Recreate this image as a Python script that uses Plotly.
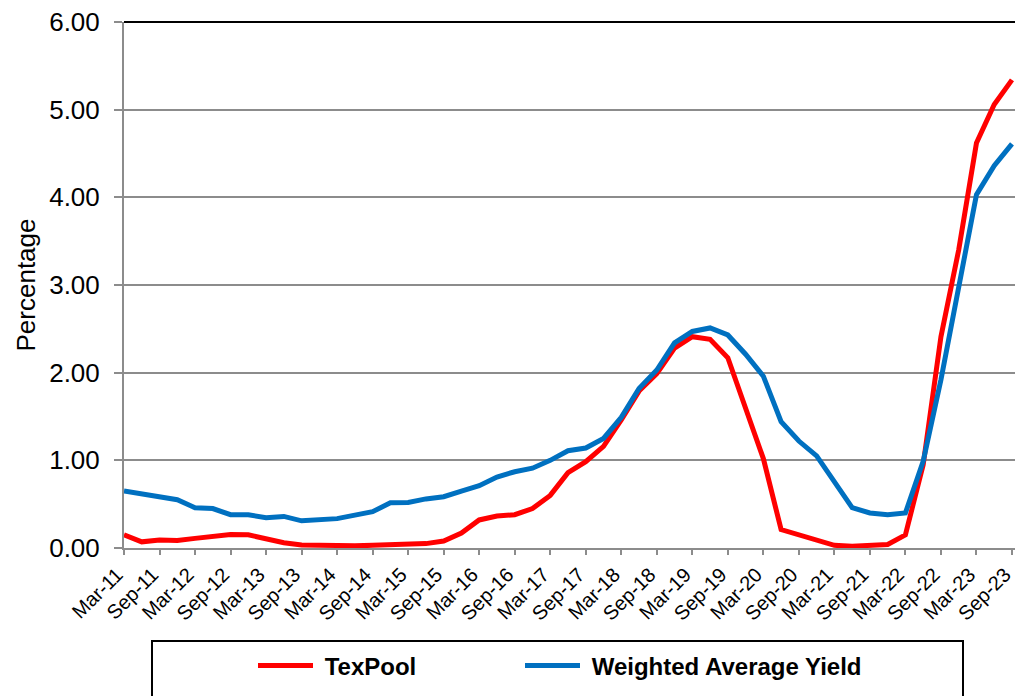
import plotly.graph_objects as go

# Quarterly categories Mar-11 .. Sep-23
quarters = []
for yr in range(11, 24):
    for m in ["Mar", "Jun", "Sep", "Dec"]:
        quarters.append(f"{m}-{yr:02d}")
quarters = quarters[:51]

texpool = [0.15, 0.07, 0.09, 0.085, 0.11, 0.135, 0.155, 0.15, 0.11, 0.06,
           0.035, 0.03, 0.025, 0.025, 0.03, 0.035, 0.04, 0.05, 0.08, 0.17,
           0.32, 0.365, 0.38, 0.45, 0.60, 0.86, 0.985, 1.16, 1.46, 1.79,
           1.99, 2.28, 2.41, 2.38, 2.17, 1.61, 1.02, 0.21, 0.15, 0.10,
           0.03, 0.02, 0.03, 0.04, 0.15, 0.95, 2.41, 3.40, 4.62, 5.06, 5.34]

weighted_avg = [0.65, 0.62, 0.585, 0.55, 0.46, 0.45, 0.38, 0.38, 0.345, 0.36,
                0.31, 0.32, 0.335, 0.375, 0.415, 0.515, 0.52, 0.56, 0.585, 0.65,
                0.71, 0.81, 0.87, 0.91, 1.00, 1.11, 1.14, 1.25, 1.49, 1.82,
                2.03, 2.34, 2.47, 2.51, 2.43, 2.21, 1.96, 1.44, 1.22, 1.05,
                0.76, 0.46, 0.40, 0.38, 0.40, 0.99, 1.92, 2.99, 4.03, 4.36, 4.61]

tick_labels = quarters[::2]

fig = go.Figure()
fig.add_trace(go.Scatter(x=quarters, y=texpool, mode="lines", name=" TexPool",
                         line=dict(color="#FF0000", width=5), legend="legend"))
fig.add_trace(go.Scatter(x=quarters, y=weighted_avg, mode="lines",
                         name=" Weighted Average Yield",
                         line=dict(color="#0070C0", width=5), legend="legend2"))

grid = "#8c8c8c"
legend_font = dict(size=24, family="Liberation Sans, Arial", weight="bold",
                   color="black")
fig.update_layout(
    width=1015, height=696,
    margin=dict(l=124, r=0, t=22, b=148, autoexpand=False),
    paper_bgcolor="white", plot_bgcolor="white",
    font=dict(family="Liberation Sans, Arial, sans-serif", color="black"),
    xaxis=dict(
        type="category", range=[0, 50.17], automargin=False,
        tickmode="array", tickvals=tick_labels, ticktext=tick_labels,
        tickangle=-45, tickfont=dict(size=20), ticklabelshift=-7,
        showgrid=False, showline=True, linecolor=grid, linewidth=2,
        ticks="outside", ticklen=5, tickcolor=grid, tickwidth=2,
        zeroline=False,
    ),
    yaxis=dict(
        range=[0, 6], tickvals=[0, 1, 2, 3, 4, 5, 6], tickformat=".2f",
        tickfont=dict(size=26), automargin=False,
        showgrid=True, gridcolor=grid, gridwidth=2,
        showline=True, linecolor=grid, linewidth=2,
        ticks="outside", ticklen=8, tickcolor=grid, tickwidth=2,
        ticklabelstandoff=9,
        zeroline=False,
        title=dict(text="Percentage", font=dict(size=26), standoff=6),
    ),
    legend=dict(orientation="h", x=(253 - 124) / 891, xanchor="left",
                y=(548 - 666) / 526, yanchor="middle", itemwidth=55,
                font=legend_font, bgcolor="rgba(0,0,0,0)"),
    legend2=dict(orientation="h", x=(520 - 124) / 891, xanchor="left",
                 y=(548 - 666) / 526, yanchor="middle", itemwidth=55,
                 font=legend_font, bgcolor="rgba(0,0,0,0)"),
    showlegend=True,
    shapes=[
        dict(type="line", xref="paper", yref="paper", x0=0, x1=1, y0=1, y1=1,
             line=dict(color="black", width=2)),
        dict(type="rect", xref="paper", yref="paper",
             x0=(152 - 124) / 891, x1=(963 - 124) / 891,
             y0=(548 - 720) / 526, y1=(548 - 641) / 526,
             line=dict(color="black", width=2), fillcolor="rgba(0,0,0,0)"),
    ],
)

fig.write_html("out.html")
